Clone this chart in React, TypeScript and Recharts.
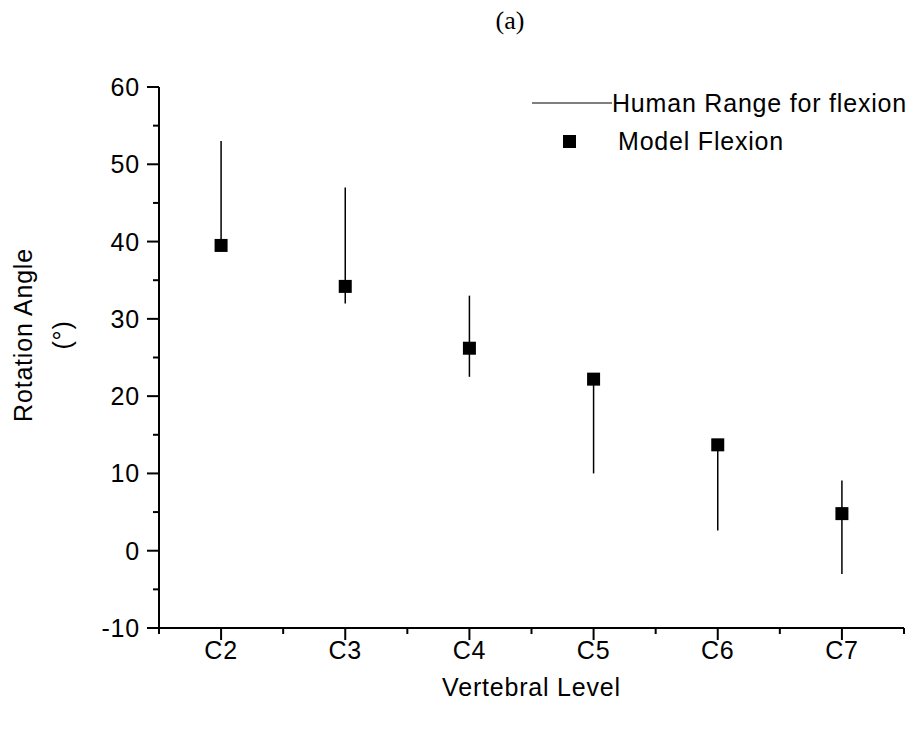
import React from 'react';
import { ComposedChart, Scatter, ErrorBar, XAxis, YAxis, Legend, Label } from 'recharts';

const levels = ['C2', 'C3', 'C4', 'C5', 'C6', 'C7'];
const levelPositions = [2, 3, 4, 5, 6, 7];
const modelFlexion = [39.5, 34.2, 26.2, 22.2, 13.7, 4.8];
const humanLow = [39.5, 32.0, 22.5, 10.0, 2.6, -3.0];
const humanHigh = [53.0, 47.0, 33.0, 22.2, 13.7, 9.1];
const yTicks = [-10, -5, 0, 5, 10, 15, 20, 25, 30, 35, 40, 45, 50, 55, 60];
const xTicks = [1.5, 2, 2.5, 3, 3.5, 4, 4.5, 5, 5.5, 6, 6.5, 7, 7.5];

const data = levels.map((name, i) => ({
  name,
  x: levelPositions[i],
  model: modelFlexion[i],
  range: [modelFlexion[i] - humanLow[i], humanHigh[i] - modelFlexion[i]],
}));

const FONT = '"Liberation Sans", Arial, sans-serif';
const FS = 25;
const LS = 0.8;

const XTick = (props: any) => {
  const { x, y, payload } = props;
  const v = payload.value;
  const major = Number.isInteger(v);
  const idx = levelPositions.indexOf(v);
  return (
    <g>
      <line x1={x} x2={x} y1={y} y2={y + (major ? 12 : 6)} stroke="#000" strokeWidth={2} />
      {major && idx >= 0 && (
        <text x={x} y={y + 31} textAnchor="middle" fontFamily={FONT} fontSize={FS} letterSpacing={LS} fill="#000">
          {levels[idx]}
        </text>
      )}
    </g>
  );
};

const YTick = (props: any) => {
  const { x, y, payload } = props;
  const v = payload.value;
  const major = v % 10 === 0;
  return (
    <g>
      <line x1={x} x2={x - (major ? 12 : 6)} y1={y} y2={y} stroke="#000" strokeWidth={2} />
      {major && (
        <text x={x - 19} y={y + 9} textAnchor="end" fontFamily={FONT} fontSize={FS} letterSpacing={LS} fill="#000">
          {v}
        </text>
      )}
    </g>
  );
};

const Square = (props: any) => {
  const { cx, cy } = props;
  if (cx == null || cy == null) return null;
  return <rect x={cx - 6.5} y={cy - 6.5} width={13} height={13} fill="#000" />;
};

const LegendContent = () => (
  <div style={{ fontFamily: FONT, fontSize: FS, letterSpacing: LS, color: '#000', lineHeight: 1 }}>
    <div style={{ display: 'flex', alignItems: 'center', height: 30 }}>
      <svg width={80} height={4} style={{ display: 'block' }}>
        <line x1={0} x2={80} y1={2} y2={2} stroke="#000" strokeWidth={1.2} />
      </svg>
      <span>Human Range for flexion</span>
    </div>
    <div style={{ display: 'flex', alignItems: 'center', height: 30, marginTop: 8 }}>
      <div style={{ width: 31 }} />
      <svg width={13} height={13} style={{ display: 'block' }}>
        <rect x={0} y={0} width={13} height={13} fill="#000" />
      </svg>
      <div style={{ width: 42 }} />
      <span>Model Flexion</span>
    </div>
  </div>
);

const YLabel = () => {
  const cy = 327;
  return (
    <g fontFamily={FONT} fontSize={FS} fill="#000" letterSpacing={LS}>
      <text x={15} y={cy} transform={`rotate(-90 15 ${cy})`} textAnchor="middle" dominantBaseline="central">
        Rotation Angle
      </text>
      <text x={54} y={cy} transform={`rotate(-90 54 ${cy})`} textAnchor="middle" dominantBaseline="central">
        (°)
      </text>
    </g>
  );
};

const XLabel = (props: any) => {
  const vb = props.viewBox || {};
  const cx = vb.x + vb.width / 2;
  return (
    <text x={cx} y={vb.y + 68} textAnchor="middle" fontFamily={FONT} fontSize={FS} letterSpacing={LS} fill="#000">
      Vertebral Level
    </text>
  );
};

export default function App() {
  return (
    <div style={{ position: 'relative', width: 905, height: 713 }}>
      <div
        style={{
          position: 'absolute',
          left: 0,
          width: 1004,
          top: -2,
          textAlign: 'center',
          fontFamily: '"Liberation Serif", "Times New Roman", serif',
          fontSize: 26,
          color: '#000',
        }}
      >
        (a)
      </div>
      <ComposedChart
        width={905}
        height={713}
        data={data}
        margin={{ top: 79, right: 9, bottom: 33, left: 91 }}
      >
        <XAxis
          type="number"
          dataKey="x"
          domain={[1.5, 7.5]}
          ticks={xTicks}
          interval={0}
          tick={<XTick />}
          tickLine={false}
          tickSize={0}
          tickMargin={0}
          axisLine={{ stroke: '#000', strokeWidth: 2 }}
          height={60}
          allowDecimals
        >
          <Label content={<XLabel />} />
        </XAxis>
        <YAxis
          type="number"
          domain={[-10, 60]}
          ticks={yTicks}
          interval={0}
          tick={<YTick />}
          tickLine={false}
          tickSize={0}
          tickMargin={0}
          axisLine={{ stroke: '#000', strokeWidth: 2 }}
          width={60}
        >
          <Label content={<YLabel />} />
        </YAxis>
        <Legend
          layout="horizontal"
          verticalAlign="middle"
          align="center"
          content={<LegendContent />}
          wrapperStyle={{ left: 524, top: 80, width: 390, height: 80 }}
        />
        <Scatter
          name="Model Flexion"
          dataKey="model"
          fill="#000"
          shape={<Square />}
          isAnimationActive={false}
        >
          <ErrorBar dataKey="range" direction="y" width={0} stroke="#000" strokeWidth={1.5} />
        </Scatter>
      </ComposedChart>
    </div>
  );
}
